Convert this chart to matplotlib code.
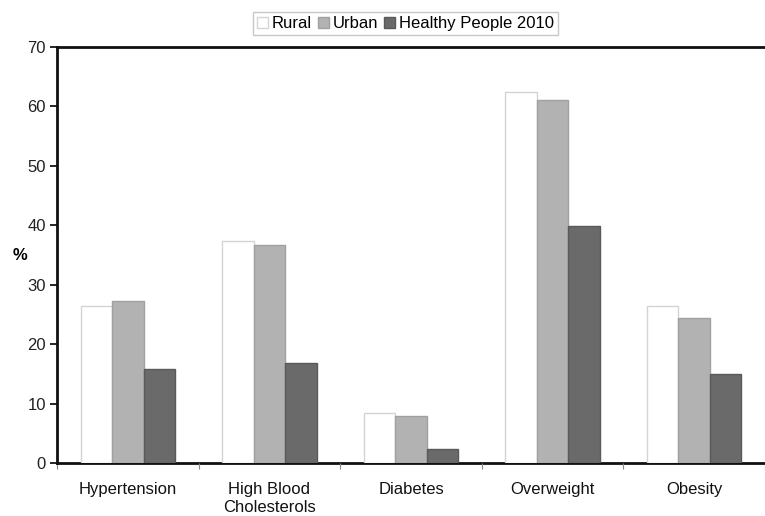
import matplotlib
matplotlib.use("Agg")
import matplotlib.pyplot as plt
import numpy as np
from matplotlib.patches import Patch

categories = ["Hypertension", "High Blood\nCholesterols", "Diabetes", "Overweight", "Obesity"]
series_names = ["Rural", "Urban", "Healthy People 2010"]
rural = [26.5, 37.3, 8.4, 62.4, 26.5]
urban = [27.3, 36.6, 7.9, 61.1, 24.4]
healthy = [15.9, 16.9, 2.4, 39.8, 14.9]
yticks = [0, 10, 20, 30, 40, 50, 60, 70]

plt.rcParams['font.family'] = ['Liberation Sans', 'DejaVu Sans']

fig = plt.figure(figsize=(7.65, 5.16), dpi=100)
ax = fig.add_axes([57/765, 53/516, 1 - 57/765, (463-47)/516])

x = np.arange(len(categories))
w = 0.222
fills = ["#ffffff", "#b2b2b2", "#6a6a6a"]
edges = ["#d4d4d4", "#a0a0a0", "#5a5a5a"]
for i, vals in enumerate([rural, urban, healthy]):
    ax.bar(x + (i - 1) * w, vals, width=w, color=fills[i], edgecolor=edges[i],
           linewidth=1.0, zorder=2)

ax.set_xlim(-0.5, len(categories) - 0.5)
ax.set_ylim(0, 70)
ax.set_yticks(yticks)
ax.set_yticklabels([str(t) for t in yticks], fontsize=12, color="#222222")
ax.set_xticks(x)
ax.set_xticklabels(categories, fontsize=12, color="#111111", linespacing=1.25)
ax.tick_params(axis='x', length=0, pad=14)
ax.set_xticks(np.arange(len(categories) + 1) - 0.5, minor=True)
ax.tick_params(axis='x', which='minor', length=4, color="#888888", width=0.8)
ax.tick_params(axis='y', length=5, width=1.2, direction='out', pad=3)

for s in ['left', 'top', 'bottom']:
    ax.spines[s].set_linewidth(2.0)
    ax.spines[s].set_color("#111111")
ax.spines['bottom'].set_zorder(1)
ax.spines['right'].set_visible(False)

ax.text(-0.052, 0.5, "%", transform=ax.transAxes, fontsize=12, fontweight='bold',
        ha='center', va='center')

handles = [Patch(facecolor=fills[i], edgecolor=edges[i], label=series_names[i]) for i in range(3)]
fig.legend(handles=handles, loc='upper center', bbox_to_anchor=(0.53, 0.993), ncol=3,
           frameon=True, fancybox=False, edgecolor="#bbbbbb", fontsize=12,
           handlelength=0.65, handleheight=0.65, handletextpad=0.25, columnspacing=0.35,
           borderpad=0.25)

fig.savefig("out.png", dpi=100)
